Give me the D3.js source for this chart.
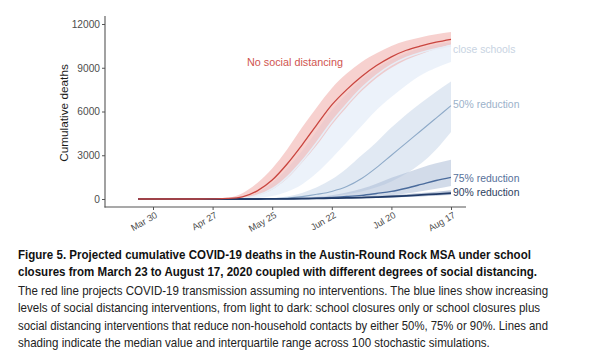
<!DOCTYPE html>
<html><head><meta charset="utf-8">
<script src="https://cdn.jsdelivr.net/npm/d3@7/dist/d3.min.js"></script>
<style>
html,body{margin:0;padding:0;background:#fff;}
svg{display:block;font-family:"Liberation Sans",Arial,Helvetica,sans-serif;}
</style></head>
<body><svg id="c" width="600" height="356"></svg>
<script>
// weekly dates, Mar 23 .. Aug 17 2020
const dates = ["2020-03-23","2020-03-30","2020-04-06","2020-04-13","2020-04-20","2020-04-27","2020-05-04","2020-05-11","2020-05-18","2020-05-25","2020-06-01","2020-06-08","2020-06-15","2020-06-22","2020-06-29","2020-07-06","2020-07-13","2020-07-20","2020-07-27","2020-08-03","2020-08-10","2020-08-17"];
const noSD_med  = [0,0,0,0,0,10,40,150,560,1300,2400,3700,5100,6450,7500,8400,9150,9750,10200,10500,10750,10950];
const noSD_lo   = [0,0,0,0,0,0,10,60,250,650,1400,2500,3700,5100,6300,7400,8300,9000,9550,9950,10300,10600];
const noSD_hi   = [0,0,0,0,0,20,80,400,1100,2100,3400,4900,6300,7600,8600,9400,10000,10500,10850,11100,11300,11450];
const close_med = [0,0,0,0,0,0,15,60,250,700,1500,2600,3900,5300,6500,7600,8500,9200,9700,10050,10300,10500];
const close_lo  = [0,0,0,0,0,0,0,10,60,200,500,1000,1800,2800,3900,5000,6100,7000,7800,8500,9000,9400];
const close_hi  = [0,0,0,0,0,5,40,120,450,1100,2100,3300,4700,6100,7200,8200,8950,9550,10000,10350,10600,10750];
const r50_med   = [0,0,0,0,0,0,0,5,10,20,60,160,320,520,850,1400,2150,3000,3850,4700,5550,6400];
const r50_lo    = [0,0,0,0,0,0,0,0,0,5,20,50,110,200,330,520,800,1200,1750,2450,3400,4600];
const r50_hi    = [0,0,0,0,0,0,5,15,30,60,180,420,800,1350,2100,3000,3900,4900,5800,6600,7350,8050];
const r75_med   = [0,0,0,0,0,0,0,0,5,10,20,35,60,110,170,250,380,520,740,1000,1270,1480];
const r75_lo    = [0,0,0,0,0,0,0,0,0,0,5,10,20,40,60,100,160,250,380,530,700,900];
const r75_hi    = [0,0,0,0,0,0,0,5,10,25,45,80,150,260,450,700,1050,1450,1800,2150,2450,2700];
const r90_med   = [0,0,0,0,0,0,0,0,0,10,15,25,40,55,75,100,130,170,220,280,340,400];
const r90_lo    = [0,0,0,0,0,0,0,0,0,0,5,10,20,30,40,55,75,100,135,180,230,280];
const r90_hi    = [0,0,0,0,0,0,0,0,5,15,25,40,60,85,115,150,200,260,330,410,500,600];
const yTicks = [0,3000,6000,9000,12000];
const xTickDates = ["2020-03-30","2020-04-27","2020-05-25","2020-06-22","2020-07-20","2020-08-17"];
const xTickLabels = ["Mar 30","Apr 27","May 25","Jun 22","Jul 20","Aug 17"];
const captionBold = ["Figure 5. Projected cumulative COVID-19 deaths in the Austin-Round Rock MSA under school",
  "closures from March 23 to August 17, 2020 coupled with different degrees of social distancing."];
const captionText = ["The red line projects COVID-19 transmission assuming no interventions. The blue lines show increasing",
  "levels of social distancing interventions, from light to dark: school closures only or school closures plus",
  "social distancing interventions that reduce non-household contacts by either 50%, 75% or 90%. Lines and",
  "shading indicate the median value and interquartile range across 100 stochastic simulations."];

const parse = d3.timeParse("%Y-%m-%d");
const D = dates.map(parse);
const svg = d3.select("#c");
const x = d3.scaleTime().domain([parse("2020-03-30"), parse("2020-08-17")]).range([153, 451]);
const y = d3.scaleLinear().domain([0, 12000]).range([199, 24]);

const series = [
  {med: close_med, lo: close_lo, hi: close_hi, fill:"#e4edf8", fo:0.7, line:"#e6edf6", lw:1.6},
  {med: r50_med, lo: r50_lo, hi: r50_hi, fill:"#c3d4e7", fo:0.5, line:"#8eaac8", lw:1.1},
  {med: r75_med, lo: r75_lo, hi: r75_hi, fill:"#a5b8d3", fo:0.5, line:"#4a6b9c", lw:1.4},
  {med: r90_med, lo: r90_lo, hi: r90_hi, fill:"#8096ba", fo:0.5, line:"#213b68", lw:1.8},
  {med: noSD_med, lo: noSD_lo, hi: noSD_hi, fill:"#f0a3a0", fo:0.5, line:"#c9453f", lw:1.3}
];
const curve = d3.curveMonotoneX;
const area = (lo, hi) => d3.area().curve(curve).x((d,i)=>x(D[i])).y0((d,i)=>y(lo[i])).y1((d,i)=>y(hi[i]))(D);
const line = (m) => d3.line().curve(curve).x((d,i)=>x(D[i])).y((d,i)=>y(m[i]))(D);

series.forEach(s => svg.append("path").attr("d", area(s.lo, s.hi)).attr("fill", s.fill).attr("fill-opacity", s.fo));
series.forEach(s => svg.append("path").attr("d", line(s.med)).attr("fill","none").attr("stroke", s.line).attr("stroke-width", s.lw));

// axes
const axisCol = "#555";
const yAxis = svg.append("g").attr("transform","translate(105,0)")
  .call(d3.axisLeft(y).tickValues(yTicks).tickSize(3).tickPadding(2).tickFormat(d3.format("d")));
yAxis.select(".domain").remove();
svg.append("line").attr("x1",105).attr("x2",105).attr("y1",16).attr("y2",207.5).attr("stroke",axisCol).attr("stroke-width",1.1);
yAxis.selectAll("line").attr("stroke",axisCol);
yAxis.selectAll("text").attr("font-size","10.2px").attr("fill","#4d4d4d").attr("font-family","Liberation Sans, Arial, sans-serif");

const xAxis = svg.append("g").attr("transform","translate(0,207)")
  .call(d3.axisBottom(x).tickValues(xTickDates.map(parse)).tickSize(3).tickFormat(""));
xAxis.select(".domain").remove();
xAxis.selectAll("line").attr("stroke",axisCol);
svg.append("line").attr("x1",104.5).attr("x2",466).attr("y1",207).attr("y2",207).attr("stroke",axisCol).attr("stroke-width",1.1);
svg.append("g").selectAll("text").data(xTickDates).join("text")
  .attr("transform", d => `translate(${x(parse(d))+5},217) rotate(-30)`)
  .attr("text-anchor","end").attr("font-size","9.2px").attr("fill","#4d4d4d")
  .text((d,i)=>xTickLabels[i]);

svg.append("text").attr("transform","translate(68,113) rotate(-90)").attr("text-anchor","middle")
  .attr("font-size","11.8px").attr("fill","#1a1a1a").text("Cumulative deaths");

// series labels
svg.append("text").attr("x",247).attr("y",65.5).attr("font-size","10.8px").attr("fill","#d0554f").text("No social distancing");
const labs = [["close schools",52.5,"#c8d3e2"],["50% reduction",107.5,"#9cb2ca"],["75% reduction",182,"#56709a"],["90% reduction",196,"#2b3e60"]];
labs.forEach(l => svg.append("text").attr("x",453).attr("y",l[1]).attr("font-size","10.4px").attr("fill",l[2]).text(l[0]));

// caption: horizontally condensed to match the reference widths
const boldW = [513, 519];
const txtW = [530, 522, 530, 472];
const boldY = [259, 276];
const txtY = [294.5, 311.5, 330, 347];
function capLine(t, yy, w, bold) {
  const g = svg.append("g");
  const el = g.append("text").attr("x",0).attr("y",0)
    .attr("font-size","13.6px").attr("font-weight", bold ? "bold" : "normal")
    .attr("fill", bold ? "#111" : "#222").text(t);
  const nat = el.node().getComputedTextLength();
  g.attr("transform", `translate(18,${yy}) scale(${w/nat},1)`);
}
captionBold.forEach((t,i) => capLine(t, boldY[i], boldW[i], true));
captionText.forEach((t,i) => capLine(t, txtY[i], txtW[i], false));
</script></body></html>
